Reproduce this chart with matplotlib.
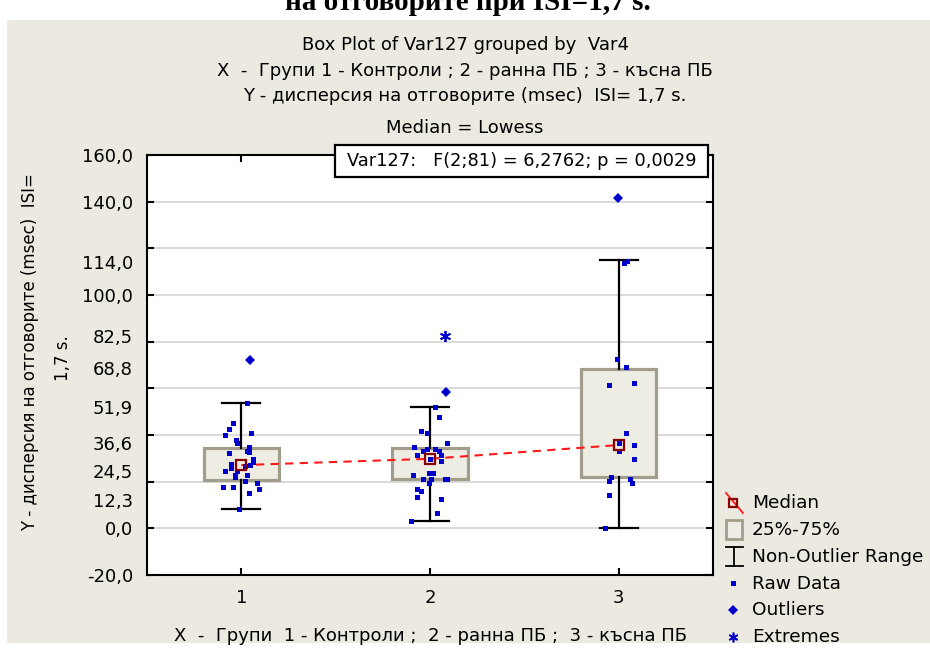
import matplotlib
matplotlib.use("Agg")
import matplotlib.pyplot as plt
from matplotlib.patches import Rectangle
from matplotlib.ticker import FixedLocator, FuncFormatter, MultipleLocator, NullFormatter

plt.rcParams['font.family'] = ['DejaVu Sans']

# ---- data -------------------------------------------------------------
groups = [1, 2, 3]
group_names = ["1", "2", "3"]

# raw observations (msec) and their horizontal jitter within each group
raw_1 = [53.7, 45.3, 42.6, 40.0, 41.0, 37.9, 36.7, 35.0, 33.3, 32.6, 32.3, 29.8,
         28.4, 27.4, 25.7, 26.8, 27.1, 24.7, 24.4, 22.9, 22.0, 22.9, 20.3, 19.6,
         17.8, 17.8, 17.0, 15.1, 8.3]
jitter_1 = [0.028, -0.044, -0.067, -0.089, 0.051, -0.027, -0.023, 0.039, 0.030,
            0.039, -0.067, 0.062, 0.060, -0.057, -0.057, 0.018, 0.048, -0.089,
            -0.023, -0.032, -0.036, 0.030, 0.018, 0.083, -0.099, -0.044, 0.092,
            0.039, -0.014]

raw_2 = [52.1, 47.7, 41.7, 40.9, 36.6, 34.9, 34.1, 33.3, 34.1, 33.1, 31.6, 31.6,
         29.8, 28.9, 22.9, 23.8, 23.8, 21.1, 21.1, 19.4, 21.3, 21.3, 17.0, 16.1,
         13.4, 12.7, 6.6, 3.3]
jitter_2 = [0.025, 0.046, -0.049, -0.018, 0.090, -0.083, -0.018, -0.039, 0.027,
            0.046, 0.057, -0.071, 0.000, 0.057, -0.092, -0.007, 0.014, -0.039,
            0.004, -0.007, 0.080, 0.090, -0.071, -0.049, -0.071, 0.057, 0.036,
            -0.102]

raw_3 = [114.6, 113.7, 72.6, 69.1, 61.4, 62.4, 40.9, 36.4, 35.7, 33.1, 29.8, 22.1,
         20.3, 21.3, 19.4, 14.4, 0.0]
jitter_3 = [0.046, 0.030, -0.007, 0.037, -0.049, 0.080, 0.037, 0.004, 0.080,
            0.004, 0.080, -0.039, -0.049, 0.058, 0.069, -0.049, -0.071]

outlier_group = [1, 2, 3]
outlier_value = [72.0, 58.3, 141.6]
outlier_jitter = [0.044, 0.083, -0.002]

extreme_group = [2]
extreme_value = [82.5]
extreme_jitter = [0.080]

# box statistics
q1 = [20.7, 21.3, 22.0]
q3 = [34.5, 34.6, 68.5]
medians = [27.1, 29.8, 35.7]
whisker_low = [8.3, 3.3, 0.0]
whisker_high = [53.7, 52.1, 115.0]

ytick_values = [160.0, 140.0, 114.0, 100.0, 82.5, 68.8, 51.9, 36.6, 24.5, 12.3, 0.0, -20.0]

# ---- styling ----------------------------------------------------------
BG = '#ECE9E0'
BOX_FACE = '#EEEDE4'
BOX_EDGE = '#A29E8B'
BLUE = '#0000CC'
MED_RED = '#8B0000'
LOWESS_RED = '#FF1A1A'

W, H = 930, 652
fig = plt.figure(figsize=(W / 100, H / 100), dpi=100, facecolor='white')

# beige panel behind the chart
fig.patches.append(Rectangle((7 / W, 1 - 643 / H), (W - 7) / W, (643 - 20) / H,
                             transform=fig.transFigure, facecolor=BG,
                             edgecolor='none', zorder=-10))

ax = fig.add_axes([147 / W, 1 - 575 / H, 566 / W, 420 / H])
ax.set_facecolor('white')
ax.set_xlim(0.5, 3.5)
ax.set_ylim(-20, 160)

# boxes and whiskers
stats = []
for i in range(len(groups)):
    stats.append(dict(med=medians[i], q1=q1[i], q3=q3[i],
                      whislo=whisker_low[i], whishi=whisker_high[i], fliers=[]))
ax.bxp(stats, positions=groups, widths=0.4, capwidths=0.2, showfliers=False,
       patch_artist=True,
       boxprops=dict(facecolor=BOX_FACE, edgecolor=BOX_EDGE, linewidth=2.3),
       whiskerprops=dict(color='black', linewidth=1.6),
       capprops=dict(color='black', linewidth=1.6),
       medianprops=dict(linewidth=0))

# lowess line through the medians
ax.plot(groups, medians, color=LOWESS_RED, linestyle=(0, (4, 3)), linewidth=1.5,
        zorder=4)

# raw data
for g, vals, jit in ((1, raw_1, jitter_1), (2, raw_2, jitter_2), (3, raw_3, jitter_3)):
    ax.plot([g + j for j in jit], vals, linestyle='none', marker='s',
            markersize=3.6, color=BLUE, markeredgewidth=0, zorder=5)

ax.plot([g + j for g, j in zip(outlier_group, outlier_jitter)], outlier_value,
        linestyle='none', marker='D', markersize=5, color=BLUE,
        markeredgewidth=0, zorder=5)
ax.plot([g + j for g, j in zip(extreme_group, extreme_jitter)], extreme_value,
        linestyle='none', marker=(6, 2, 0), markersize=8, color=BLUE,
        markeredgewidth=1.3, zorder=5)

# median markers
ax.plot(groups, medians, linestyle='none', marker='s', markersize=7,
        markerfacecolor='none', markeredgecolor=MED_RED, markeredgewidth=1.6,
        zorder=6)

# axes, ticks, grid
for sp in ax.spines.values():
    sp.set_linewidth(1.5)
    sp.set_color('black')
ax.yaxis.remove_overlapping_locs = False
ax.yaxis.set_major_locator(MultipleLocator(20))
ax.yaxis.set_major_formatter(NullFormatter())
ax.yaxis.set_minor_locator(FixedLocator(ytick_values))
ax.yaxis.set_minor_formatter(FuncFormatter(lambda v, pos: f"{v:.1f}".replace('.', ',')))
ax.set_xticks(groups)
ax.set_xticklabels(group_names)
ax.tick_params(axis='both', which='major', direction='in', length=5, width=1.5,
               top=True, right=True, labelsize=13)
ax.tick_params(axis='x', which='major', pad=10)
ax.tick_params(axis='y', which='minor', length=0, pad=10, labelsize=13,
               left=True, right=False)
ax.grid(axis='y', which='major', color='#DADADA', linewidth=1.4)
ax.set_axisbelow(True)

# statistics box
fig.patches.append(Rectangle((335 / W, 1 - 177 / H), 373 / W, 32 / H,
                             transform=fig.transFigure, facecolor='white',
                             edgecolor='black', linewidth=1.6, zorder=5))
fig.text(347 / W, 1 - 161 / H, "Var127:   F(2;81) = 6,2762; p = 0,0029",
         fontsize=12.8, ha='left', va='center', zorder=6)

# headings
fig.text(468 / W, 1 - 10 / H, "на отговорите при ISI=1,7 s.",
         family=['Liberation Serif', 'DejaVu Serif'], fontweight='bold',
         fontsize=21, ha='center', va='baseline')
fig.text(465 / W, 1 - 45 / H, "Box Plot of Var127 grouped by  Var4",
         fontsize=13, ha='center', va='center')
fig.text(465 / W, 1 - 71 / H,
         "X  -  Групи 1 - Контроли ; 2 - ранна ПБ ; 3 - късна ПБ",
         fontsize=13, ha='center', va='center')
fig.text(465 / W, 1 - 96 / H,
         "Y - дисперсия на отговорите (msec)  ISI= 1,7 s.",
         fontsize=13, ha='center', va='center')
fig.text(465 / W, 1 - 128 / H, "Median = Lowess",
         fontsize=13, ha='center', va='center')

# axis titles
fig.text(30 / W, 1 - 352 / H, "Y - дисперсия на отговорите (msec)  ISI=",
         fontsize=12, rotation=90, ha='center', va='center')
fig.text(63 / W, 1 - 358 / H, "1,7 s.",
         fontsize=12, rotation=90, ha='center', va='center')
fig.text(430 / W, 1 - 636 / H,
         "X  -  Групи  1 - Контроли ;  2 - ранна ПБ ;  3 - късна ПБ",
         fontsize=13, ha='center', va='center')

# legend drawn in pixel coordinates on a transparent overlay
lg = fig.add_axes([0, 0, 1, 1], facecolor='none')
lg.set_xlim(0, W)
lg.set_ylim(H, 0)
lg.axis('off')
lg.plot([726, 743], [493, 513], color=LOWESS_RED, linewidth=1.3)
lg.plot([733], [503], marker='s', markersize=6, markerfacecolor='none',
        markeredgecolor=MED_RED, markeredgewidth=1.6)
lg.add_patch(Rectangle((726, 520), 16, 19, facecolor=BOX_FACE,
                       edgecolor=BOX_EDGE, linewidth=2))
lg.plot([734, 734], [547, 566], color='black', linewidth=1.3)
lg.plot([726, 743], [547, 547], color='black', linewidth=1.3)
lg.plot([726, 743], [566, 566], color='black', linewidth=1.3)
lg.plot([733], [583], marker='s', markersize=3.6, color=BLUE, markeredgewidth=0)
lg.plot([733], [610], marker='D', markersize=5, color=BLUE, markeredgewidth=0)
lg.plot([733], [637], marker=(6, 2, 0), markersize=7, color=BLUE,
        markeredgewidth=1.2)
legend_text = ["Median", "25%-75%", "Non-Outlier Range", "Raw Data", "Outliers",
               "Extremes"]
legend_y = [503, 530, 557, 584, 610, 637]
for t, y in zip(legend_text, legend_y):
    lg.text(752, y, t, fontsize=13.3, ha='left', va='center')

fig.savefig('out.png', dpi=100, facecolor=fig.get_facecolor())
